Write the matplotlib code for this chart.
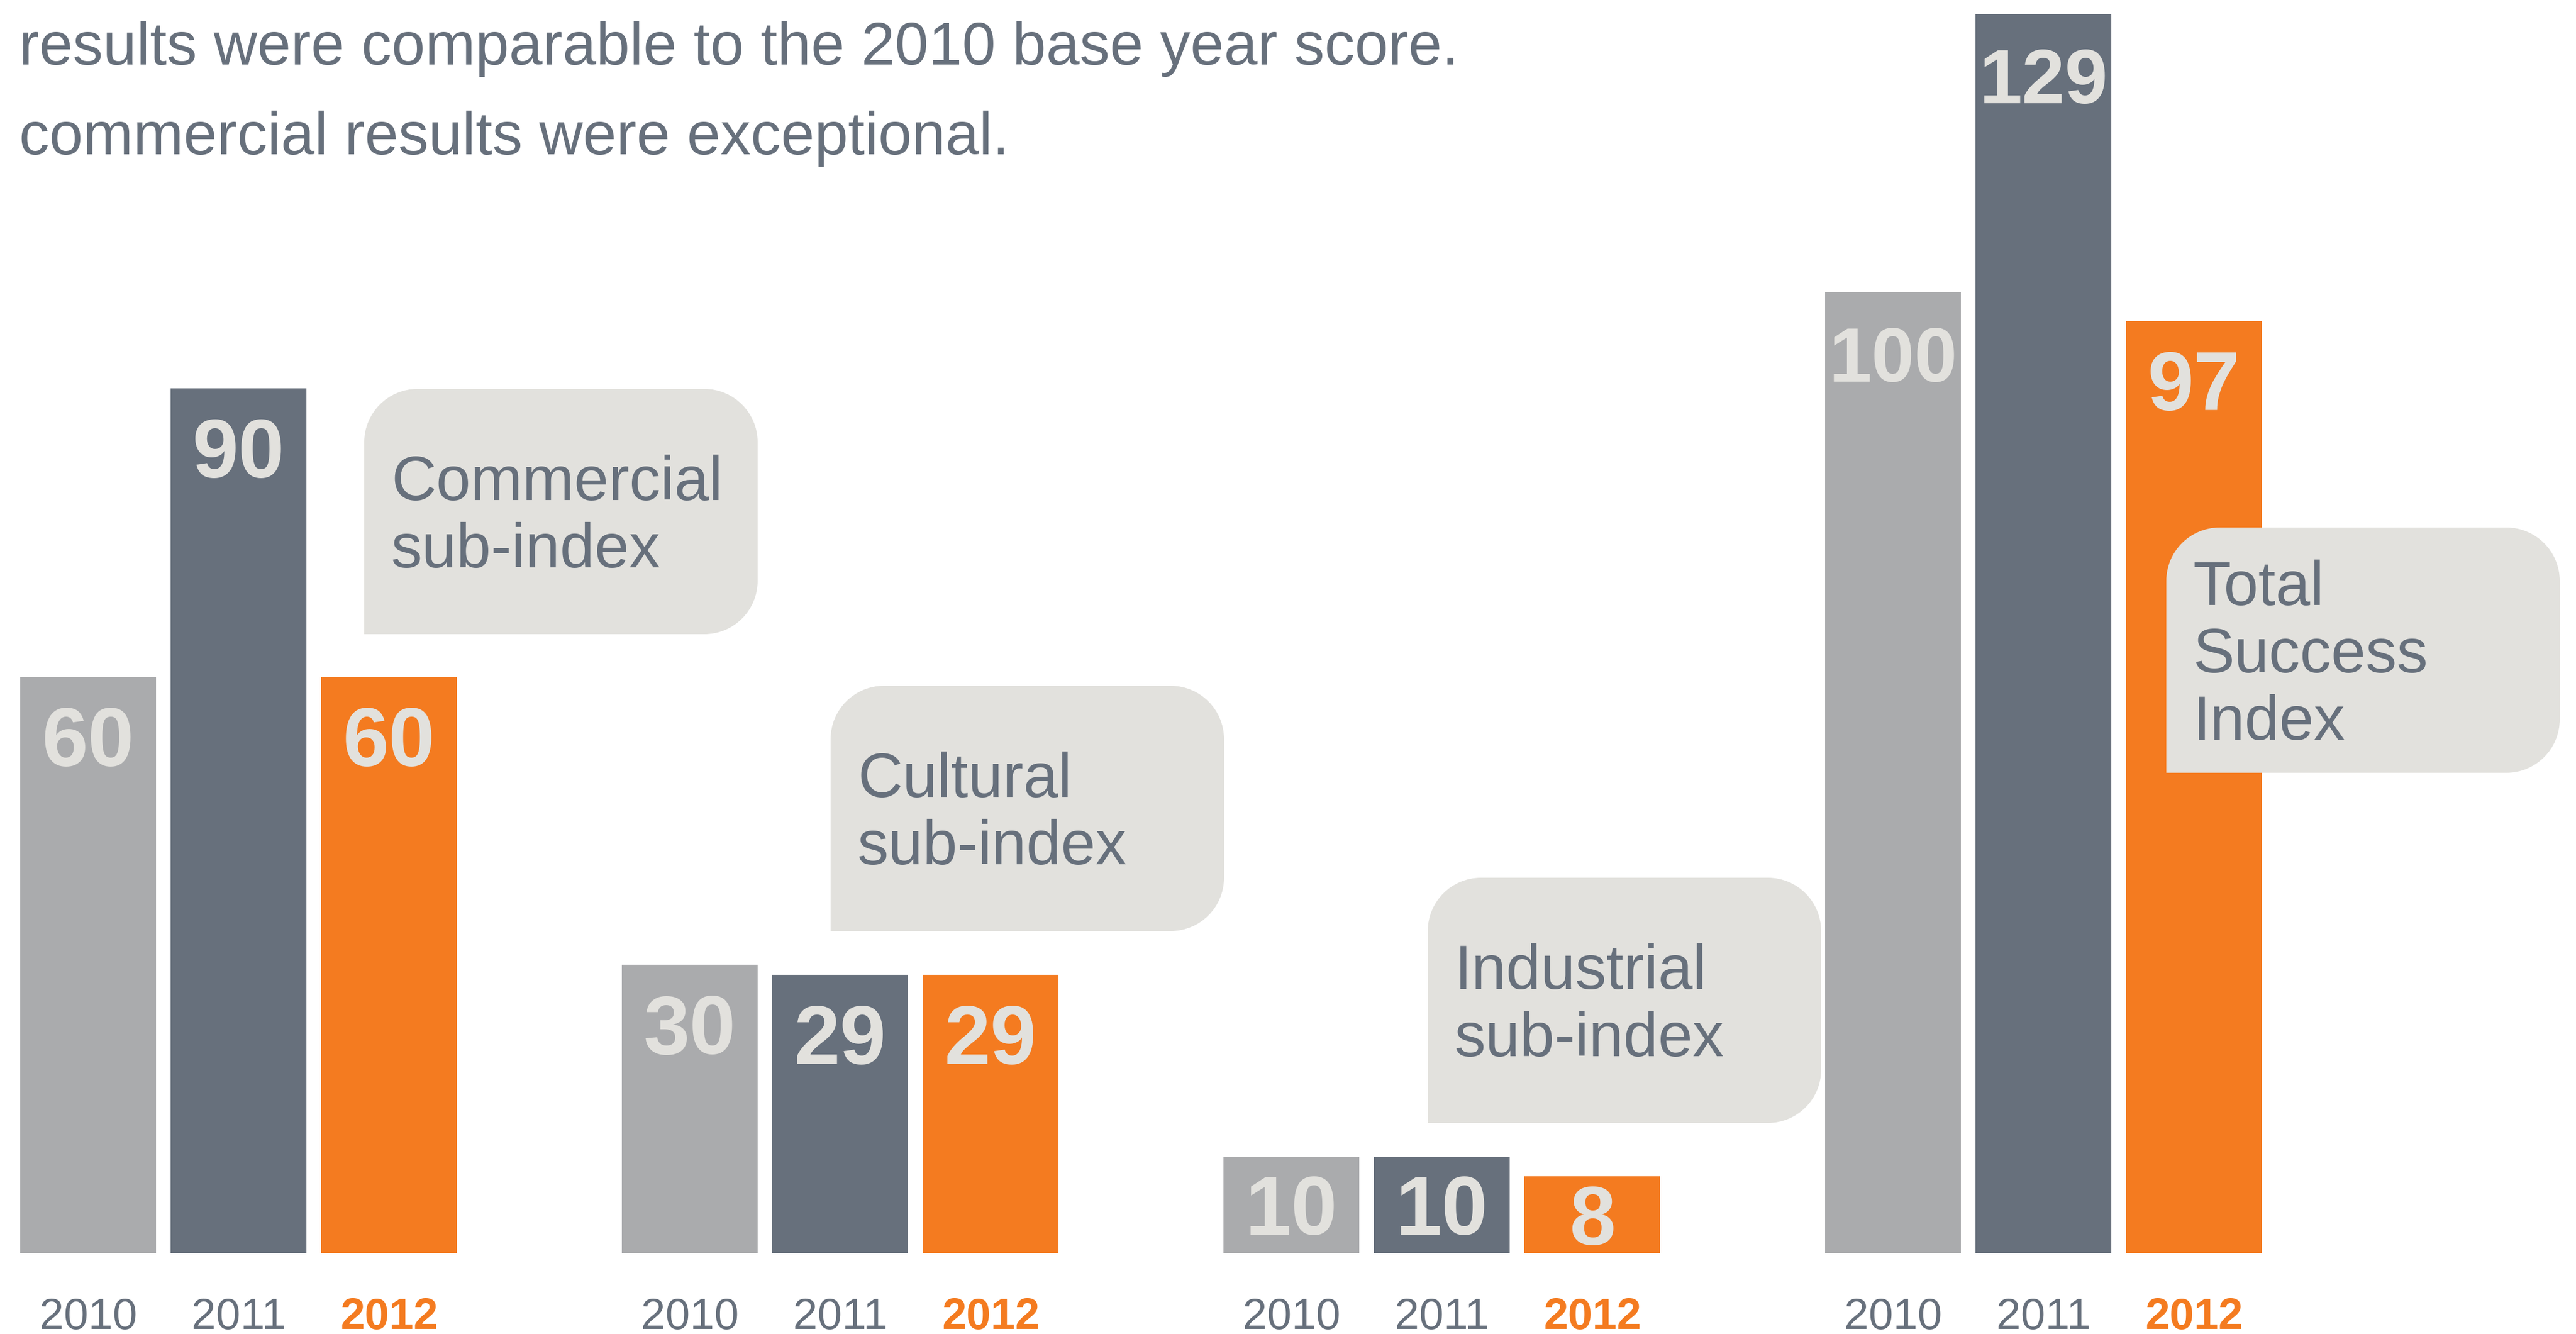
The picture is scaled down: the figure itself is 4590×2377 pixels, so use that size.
import matplotlib
matplotlib.use("Agg")
import matplotlib.pyplot as plt
from matplotlib.path import Path
from matplotlib.patches import PathPatch
from matplotlib.transforms import Affine2D

# ---------------- data ----------------
categories = ["Commercial\nsub-index", "Cultural\nsub-index", "Industrial\nsub-index", "Total\nSuccess\nIndex"]
years = ["2010", "2011", "2012"]
values_2010 = [60, 30, 10, 100]
values_2011 = [90, 29, 10, 129]
values_2012 = [60, 29, 8, 97]
header_lines = ["results were comparable to the 2010 base year score.",
                "commercial results were exceptional."]

# ---------------- style ----------------
W, H, DPI = 4590, 2377, 300
C_LIGHT = "#AAABAD"
C_SLATE = "#67707C"
C_ORANGE = "#F47B20"
C_BOX = "#E2E1DD"
C_LABEL = "#E2E1DD"
FONT = ["Liberation Sans", "DejaVu Sans"]
plt.rcParams["font.family"] = FONT

fig = plt.figure(figsize=(W / DPI, H / DPI), dpi=DPI)
ax = fig.add_axes([0, 0, 1, 1])
ax.set_axis_off()

# layout: bar pitch 268px, bar width 242px, group pitch = 4 bars
PITCH = 268.0
FIRST_CENTER = 157.0
BASE_PX = 2233.0
UNIT_PX = 17.12
ax.set_xlim(-FIRST_CENTER / PITCH, (W - FIRST_CENTER) / PITCH)
ax.set_ylim(-(H - BASE_PX) / UNIT_PX, BASE_PX / UNIT_PX)
bw = 242.0 / PITCH

series = [values_2010, values_2011, values_2012]
colors = [C_LIGHT, C_SLATE, C_ORANGE]
for i, (vals, col, yr) in enumerate(zip(series, colors, years)):
    xs = [4 * g + i for g in range(len(categories))]
    ax.bar(xs, vals, width=bw, color=col, edgecolor="none", zorder=2)
    for x, v in zip(xs, vals):
        yb = max(v - 159.0 / UNIT_PX, v / 2 - 53.0 / UNIT_PX)
        fs = 35.5 if v < 100 else 33.0
        ax.text(x, yb, str(v), ha="center", va="baseline", color=C_LABEL,
                fontsize=fs, fontweight="bold", zorder=3)
        ax.text(x, -(2368 - BASE_PX) / UNIT_PX, yr, ha="center", va="baseline",
                color=(C_ORANGE if yr == "2012" else C_SLATE),
                fontsize=18.8, fontweight=("bold" if yr == "2012" else "normal"), zorder=3)

# pixel transform (origin top-left)
pxT = Affine2D().scale(1.0 / W, -1.0 / H).translate(0, 1) + fig.transFigure


def callout(x0, y0, w, h, r, text):
    k = 0.5523 * r
    x1, y1 = x0 + w, y0 + h
    verts = [
        (x0, y1),
        (x0, y0 + r),
        (x0, y0 + r - k), (x0 + r - k, y0), (x0 + r, y0),
        (x1 - r, y0),
        (x1 - r + k, y0), (x1, y0 + r - k), (x1, y0 + r),
        (x1, y1 - r),
        (x1, y1 - r + k), (x1 - r + k, y1), (x1 - r, y1),
        (x0, y1),
        (x0, y1),
    ]
    codes = [Path.MOVETO, Path.LINETO,
             Path.CURVE4, Path.CURVE4, Path.CURVE4,
             Path.LINETO,
             Path.CURVE4, Path.CURVE4, Path.CURVE4,
             Path.LINETO,
             Path.CURVE4, Path.CURVE4, Path.CURVE4,
             Path.LINETO, Path.CLOSEPOLY]
    patch = PathPatch(Path(verts, codes), facecolor=C_BOX, edgecolor="none",
                      transform=pxT, zorder=4)
    fig.add_artist(patch)
    lines = text.split("\n")
    spacing = 120.0
    first = y0 + h / 2 + 79 / 2 - spacing * (len(lines) - 1) / 2
    for j, ln in enumerate(lines):
        fig.text(x0 + 48, first + j * spacing, ln, transform=pxT, ha="left",
                 va="baseline", color=C_SLATE, fontsize=26.6, zorder=5)


box_pos = [(649, 693), (1480, 1222), (2544, 1564), (3860, 940)]
for (bx, by), cat in zip(box_pos, categories):
    callout(bx, by, 701, 437, 95, cat)

# header text
for j, ln in enumerate(header_lines):
    fig.text(34, 115 + 160 * j, ln, transform=pxT, ha="left", va="baseline",
             color=C_SLATE, fontsize=25.8)

fig.savefig("out.png", dpi=DPI, facecolor="white")
